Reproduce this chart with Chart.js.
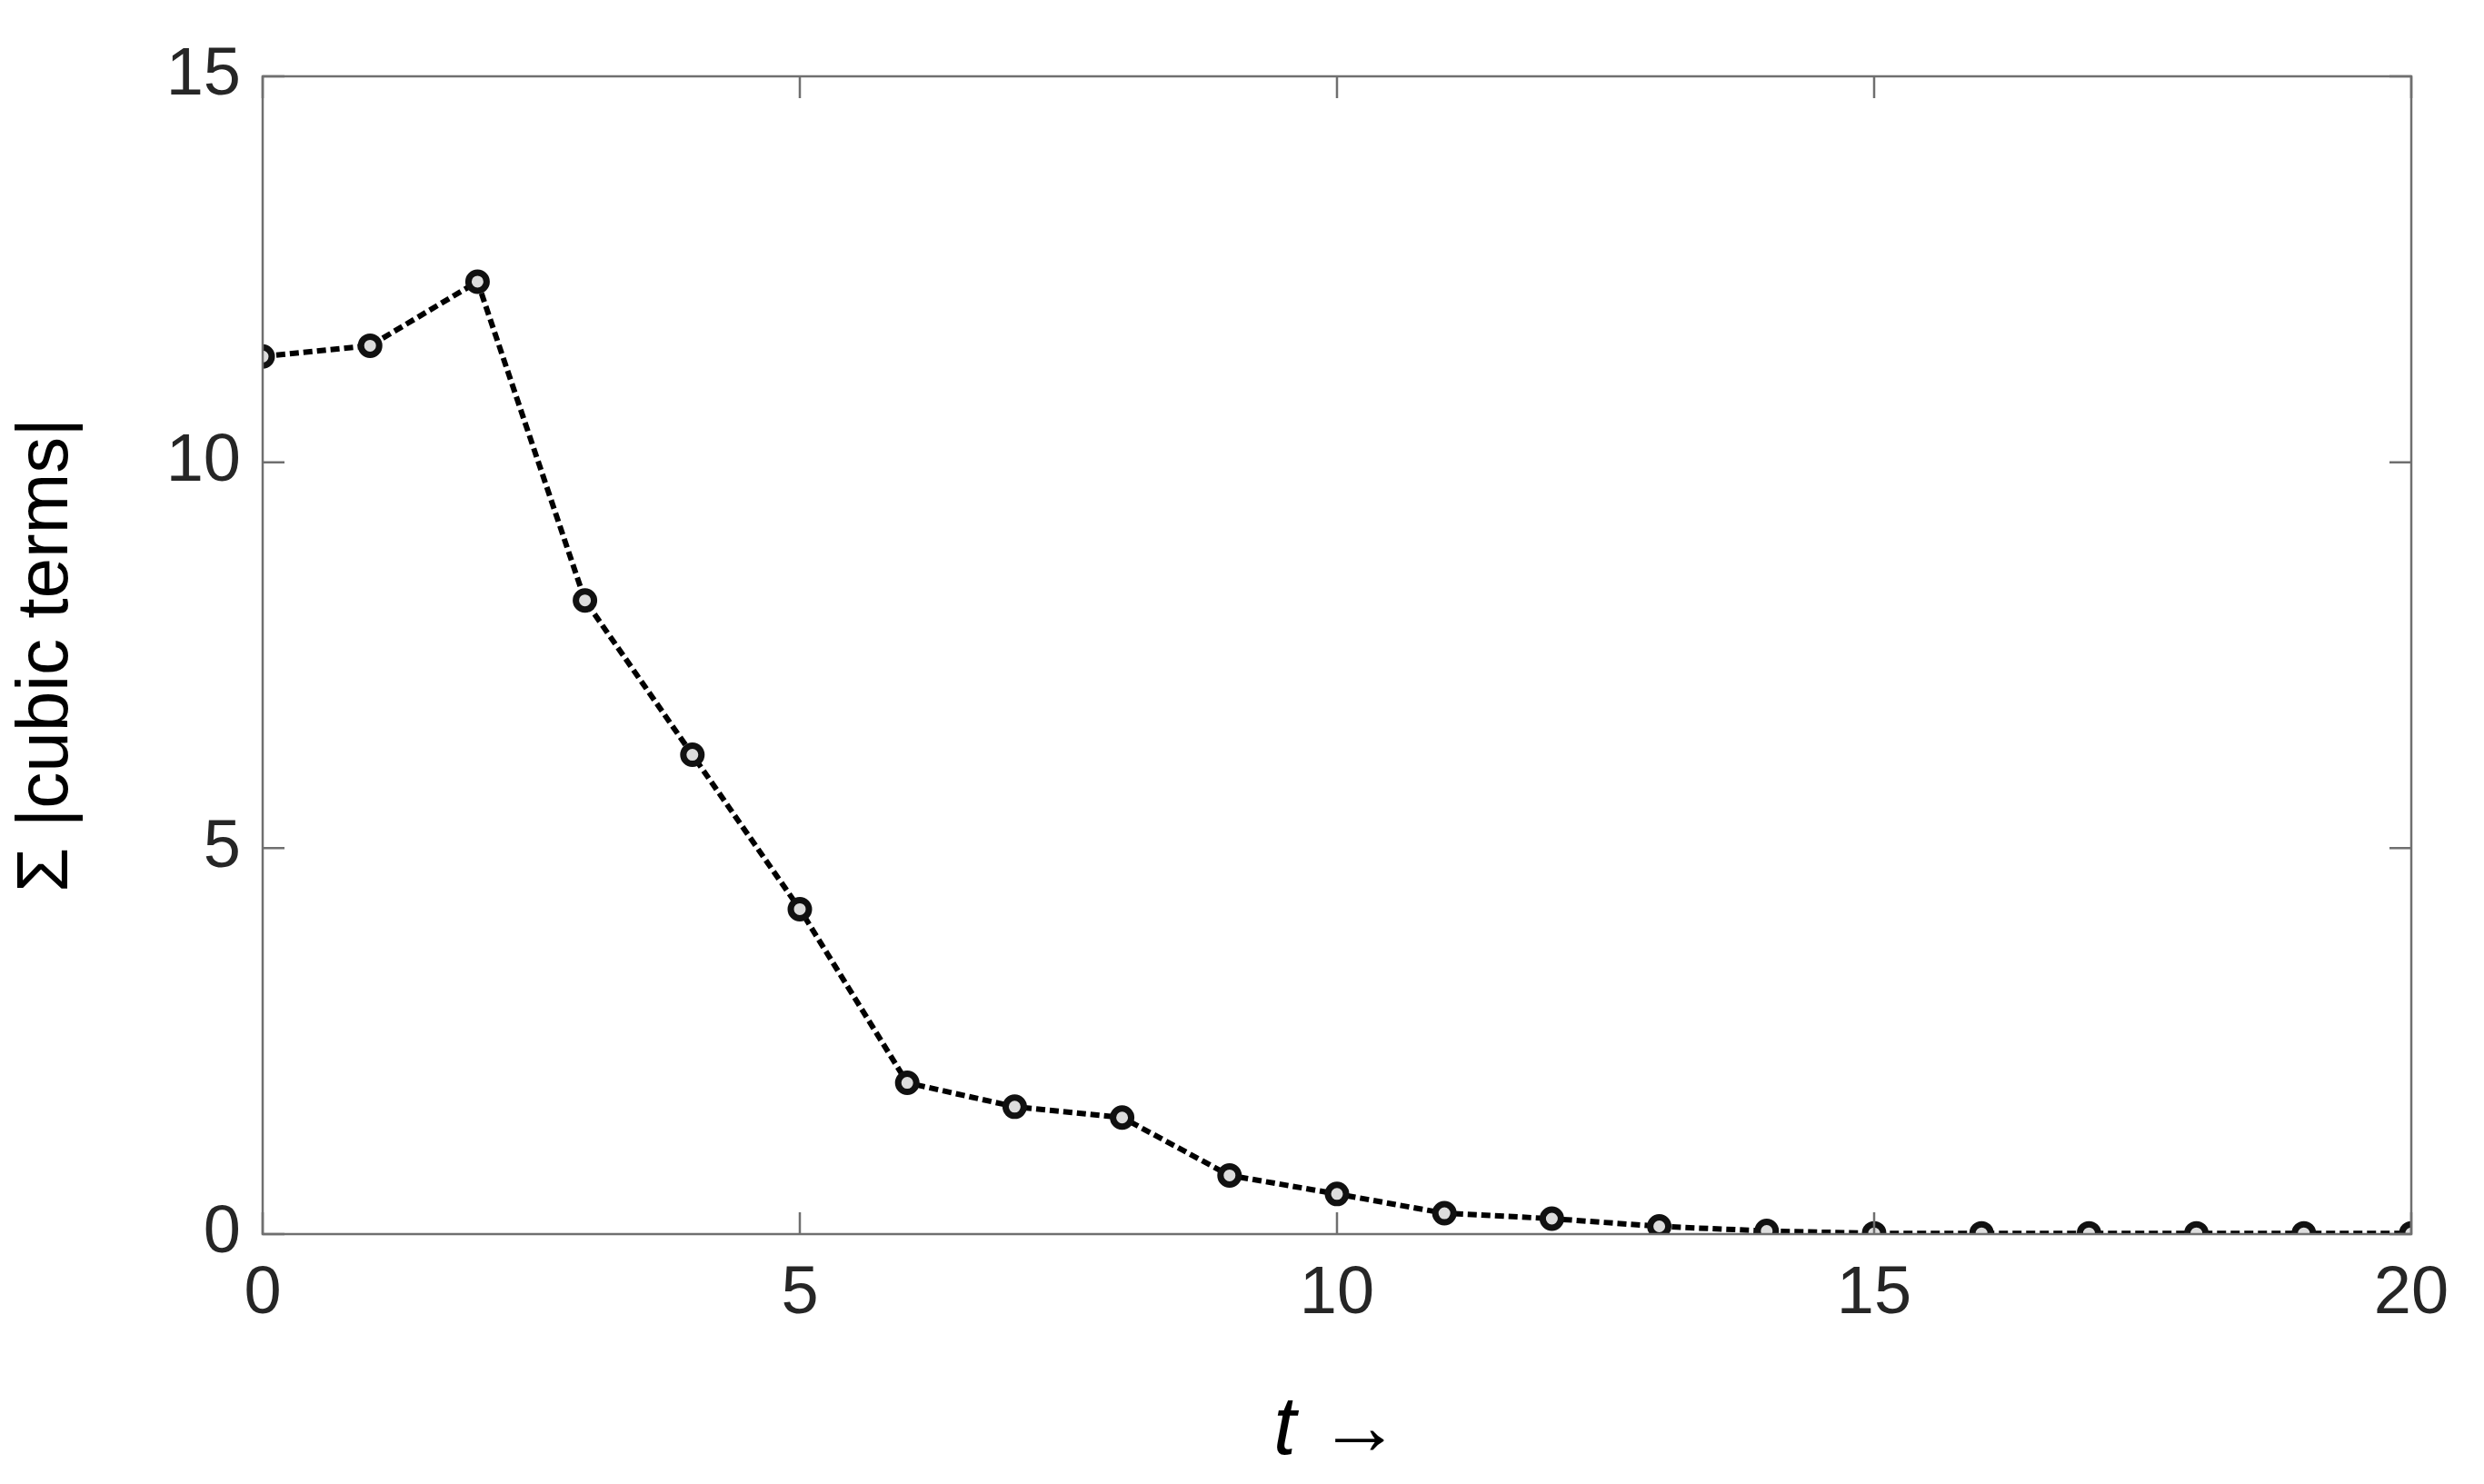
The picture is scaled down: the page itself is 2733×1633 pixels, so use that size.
<!DOCTYPE html>
<html>
<head>
<meta charset="utf-8">
<script src="https://cdn.jsdelivr.net/npm/chart.js@4"></script>
<style>
  html, body { margin: 0; padding: 0; background: #fff; }
  #wrap { width: 2733px; height: 1633px; }
</style>
</head>
<body>
<div id="wrap"><canvas id="c"></canvas></div>
<script>
const tValues = [0, 1, 2, 3, 4, 5, 6, 7, 8, 9, 10, 11, 12, 13, 14, 15, 16, 17, 18, 19, 20];
const cubicSums = [11.37, 11.51, 12.34, 8.21, 6.21, 4.21, 1.96, 1.65, 1.51, 0.76, 0.52, 0.27, 0.2, 0.1, 0.04, 0.01, 0.01, 0.01, 0.01, 0.01, 0.01];
const xTicks = [0, 5, 10, 15, 20];
const yTicks = [0, 5, 10, 15];

const axisGrey = '#6f6f6f';

// MATLAB style box with inward ticks
const boxTicks = {
    id: 'boxTicks',
    afterDraw(chart) {
        const { ctx, chartArea: a, scales } = chart;
        ctx.save();
        ctx.strokeStyle = axisGrey;
        ctx.lineWidth = 2.5;
        ctx.strokeRect(a.left, a.top, a.right - a.left, a.bottom - a.top);
        const len = 24;
        ctx.beginPath();
        xTicks.forEach(v => {
            const x = scales.x.getPixelForValue(v);
            ctx.moveTo(x, a.bottom); ctx.lineTo(x, a.bottom - len);
            ctx.moveTo(x, a.top); ctx.lineTo(x, a.top + len);
        });
        yTicks.forEach(v => {
            const y = scales.y.getPixelForValue(v);
            ctx.moveTo(a.left, y); ctx.lineTo(a.left + len, y);
            ctx.moveTo(a.right, y); ctx.lineTo(a.right - len, y);
        });
        ctx.stroke();
        ctx.restore();
    }
};

new Chart(document.getElementById('c'), {
    type: 'scatter',
    data: {
        datasets: [{
            data: tValues.map((t, i) => ({ x: t, y: cubicSums[i] })),
            showLine: true,
            borderColor: '#000',
            borderWidth: 6,
            borderDash: [10, 5],
            pointRadius: 10,
            pointBorderWidth: 7,
            pointBorderColor: '#111',
            pointBackgroundColor: '#ddd'
        }]
    },
    options: {
        responsive: true,
        maintainAspectRatio: false,
        animation: false,
        layout: { padding: { top: 84, right: 80, left: 0, bottom: 0 } },
        plugins: { legend: { display: false }, tooltip: { enabled: false } },
        scales: {
            x: {
                type: 'linear', min: 0, max: 20,
                afterBuildTicks: s => { s.ticks = xTicks.map(v => ({ value: v })); },
                afterFit: s => { s.height = 275; },
                grid: { display: false },
                border: { display: false },
                ticks: { color: '#262626', padding: 14, font: { family: 'Liberation Sans', size: 74 } },
                title: {
                    display: true, text: 't \u2192', color: '#000', padding: { top: 0 },
                    font: { family: 'Liberation Sans', size: 90, style: 'italic' }
                }
            },
            y: {
                min: 0, max: 15,
                afterBuildTicks: s => { s.ticks = yTicks.map(v => ({ value: v })); },
                afterFit: s => { s.width = 289; },
                grid: { display: false },
                border: { display: false },
                ticks: { color: '#262626', padding: 16, font: { family: 'Liberation Sans', size: 74 } },
                title: {
                    display: true, text: '\u03A3 |cubic terms|', color: '#000', padding: { bottom: 4 },
                    font: { family: 'Liberation Sans', size: 80 }
                }
            }
        }
    },
    plugins: [boxTicks]
});
</script>
</body>
</html>
